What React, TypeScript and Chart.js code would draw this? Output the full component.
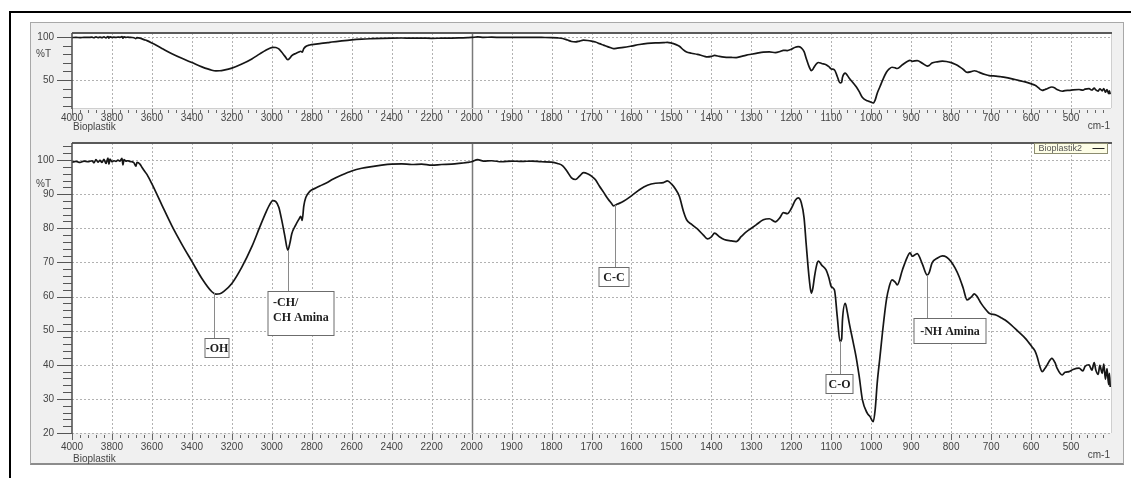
import React, { useEffect, useRef } from "react";
import { Chart, registerables } from "chart.js";

Chart.register(...registerables);

// ---------------- DATA ----------------
const wavenumbers: number[] = [
  4000, 3980, 3960, 3940, 3920, 3900, 3890, 3880, 3870, 3860, 3850, 3840, 3830, 3820, 3815, 3810,
  3800, 3790, 3780, 3770, 3760, 3750, 3745, 3740, 3730, 3720, 3710, 3700, 3690, 3680, 3675, 3660,
  3650, 3640, 3625, 3600, 3550, 3500, 3450, 3400, 3350, 3300, 3280, 3260, 3240, 3200, 3150, 3100,
  3060, 3030, 3010, 2995, 2980, 2965, 2950, 2935, 2920, 2910, 2900, 2880, 2865, 2855, 2848, 2840,
  2830, 2810, 2780, 2760, 2720, 2700, 2650, 2600, 2550, 2500, 2450, 2400, 2350, 2300, 2250, 2200,
  2150, 2100, 2050, 2020, 2000, 1985, 1970, 1950, 1925, 1900, 1875, 1850, 1825, 1800, 1785, 1772,
  1760, 1750, 1740, 1730, 1720, 1710, 1700, 1690, 1680, 1670, 1660, 1650, 1645, 1635, 1620, 1600,
  1580, 1560, 1540, 1520, 1510, 1500, 1490, 1480, 1470, 1462, 1450, 1435, 1420, 1410, 1400, 1392,
  1380, 1368, 1350, 1338, 1325, 1312, 1300, 1288, 1270, 1255, 1240, 1228, 1220, 1210, 1200, 1190,
  1183, 1175, 1168, 1163, 1155, 1150, 1146, 1142, 1136, 1132, 1124, 1113, 1106, 1100, 1092, 1085,
  1078, 1074, 1072, 1065, 1060, 1055, 1045, 1038, 1030, 1022, 1010, 1003, 995, 990, 985, 978,
  972, 962, 955, 948, 940, 935, 922, 910, 903, 897, 885, 872, 860, 855, 848, 835,
  822, 812, 800, 790, 780, 770, 760, 750, 742, 735, 725, 715, 705, 688, 675, 665,
  650, 632, 615, 598, 590, 585, 578, 572, 566, 560, 548, 540, 535, 522, 515, 505,
  495, 480, 470, 465, 455, 448, 442, 438, 432, 428, 422, 418, 414, 410, 406, 404, 402,
];

const transmittance: number[] = [
  99.4, 99.6, 99.3, 99.7, 99.5, 99.8, 99.2, 100.1, 99.4, 99.9, 99.3, 100.2, 99.0, 100.6, 98.8, 100.3,
  99.5, 99.8, 99.6, 100.0, 99.7, 100.5, 98.6, 100.1, 99.7, 99.8, 99.6, 99.5, 99.2, 98.2, 99.3, 98.8,
  97.9, 97.0, 95.8, 93.0, 86.8, 80.7, 75.3, 70.3, 65.3, 61.4, 60.7, 60.8, 61.5, 63.8, 68.6, 74.6,
  80.4, 84.6, 87.0, 88.1, 87.8, 86.2, 82.3, 77.8, 73.6, 75.5, 78.4, 81.0, 82.6, 83.5, 82.3, 86.5,
  89.0, 90.8, 91.8, 92.4, 93.5, 94.2, 95.6, 96.8, 97.6, 98.1, 98.5, 98.8, 98.9, 98.7, 98.8, 98.5,
  98.7, 98.8, 99.1, 99.3, 99.5, 100.1, 99.7, 99.8, 99.5, 99.7, 99.6, 99.7, 99.5, 99.4, 99.0, 98.3,
  96.5, 94.8, 94.3, 95.3, 96.3, 96.0, 95.3, 94.2, 92.3, 90.6, 88.8, 87.3, 86.6, 87.1, 87.9, 89.5,
  91.3, 92.6, 93.2, 93.4, 93.9, 93.0, 91.5, 89.3, 85.0, 82.5, 81.2, 79.8, 78.0, 76.9, 77.5, 78.6,
  77.5, 76.7, 76.3, 76.1, 77.6, 79.0, 80.0, 81.0, 82.5, 82.8, 81.9, 83.2, 84.6, 84.3, 85.8, 88.2,
  88.9, 87.5, 83.0, 75.7, 65.0, 61.0, 62.5, 65.8, 69.5, 70.4, 69.2, 67.8, 65.5, 62.9, 61.9, 54.1,
  46.8, 47.5, 53.1, 58.0, 55.5, 52.2, 46.5, 42.4, 36.5, 29.7, 25.8, 24.8, 23.3, 27.0, 34.7, 42.5,
  49.3, 59.0, 62.9, 64.9, 64.2, 63.4, 67.8, 71.5, 72.8, 71.8, 72.6, 69.5, 66.3, 67.0, 69.8, 71.2,
  71.9, 71.6, 70.2, 68.3, 65.8, 62.5, 59.0, 59.8, 60.8, 60.0, 58.0, 56.4, 55.1, 54.6, 53.8, 53.1,
  51.7, 49.7, 47.8, 45.3, 44.0, 42.4, 39.5, 38.0, 38.8, 39.9, 41.9, 40.6, 39.0, 37.0, 37.8, 38.0,
  38.6, 39.0, 38.2, 39.5, 40.0, 38.4, 40.6, 38.5, 37.2, 39.8, 37.5, 40.2, 35.8, 38.9, 34.2, 37.5, 33.5,
];

const xTickWavenumbers: number[] = [
  4000, 3800, 3600, 3400, 3200, 3000, 2800, 2600, 2400, 2200, 2000,
  1900, 1800, 1700, 1600, 1500, 1400, 1300, 1200, 1100, 1000, 900, 800, 700, 600, 500,
];
const xEndWavenumber = 400;
const xBreakWavenumber = 2000;

const topYTickValues: number[] = [20, 30, 40, 50, 60, 70, 80, 90, 100];
const topYLabelValues: number[] = [50, 100];
const bottomYTickValues: number[] = [
  20, 22, 24, 26, 28, 30, 32, 34, 36, 38, 40, 42, 44, 46, 48, 50, 52, 54, 56, 58, 60, 62,
  64, 66, 68, 70, 72, 74, 76, 78, 80, 82, 84, 86, 88, 90, 92, 94, 96, 98, 100, 102, 104,
];
const bottomYLabelValues: number[] = [20, 30, 40, 50, 60, 70, 80, 90, 100];

const sampleName = "Bioplastik";
const seriesName = "Bioplastik2";
const xUnit = "cm-1";
const yUnit = "%T";

const annotationLabels: string[][] = [["-OH"], ["-CH/", "CH Amina"], ["C-C"], ["C-O"], ["-NH Amina"]];
const annotationWavenumbers: number[] = [3290, 2920, 1640, 1077, 860];

// ---------------- LAYOUT / STYLE ----------------
const annotationBoxes = [
  { topValue: 47.8, dx: -10, w: 24, h: 19, align: "center" },
  { topValue: 61.6, dx: -21, w: 66, h: 44, align: "left" },
  { topValue: 68.7, dx: -17, w: 30, h: 19, align: "center" },
  { topValue: 37.3, dx: -15, w: 27, h: 19, align: "center" },
  { topValue: 53.7, dx: -14, w: 72, h: 25, align: "center" },
];

const AXIS_FONT = '"Liberation Sans", Arial, sans-serif';
const ANNOT_FONT = 'bold 12px "Liberation Serif", "DejaVu Serif", serif';

// piecewise wavenumber axis (scale change at 2000 cm-1)
const toU = (wn: number) =>
  wn >= xBreakWavenumber ? (4000 - wn) / 200 : 10 + (xBreakWavenumber - wn) / 100;

const interpT = (wn: number) => {
  for (let i = 0; i < wavenumbers.length - 1; i++) {
    const a = wavenumbers[i], b = wavenumbers[i + 1];
    if (wn <= a && wn >= b) {
      const t = (a - wn) / (a - b);
      return transmittance[i] + t * (transmittance[i + 1] - transmittance[i]);
    }
  }
  return transmittance[transmittance.length - 1];
};

const points = wavenumbers.map((w, i) => ({ x: toU(w), y: transmittance[i] }));

type PanelCfg = {
  yTicks: number[];
  yLabels: number[];
  unitValue: number;
  bottomLine: boolean;
  annotations: boolean;
  legend: boolean;
  nameOffset: number;
  unitOffset: number;
};

function makeDecor(cfg: PanelCfg) {
  return {
    id: "decor",
    beforeDatasetsDraw(chart: any) {
      const { ctx, chartArea: a } = chart;
      const x = chart.scales.x;
      const y = chart.scales.y;
      ctx.save();
      ctx.fillStyle = "#ffffff";
      ctx.fillRect(a.left, a.top, a.right - a.left, a.bottom - a.top);
      ctx.strokeStyle = "#b2b2b2";
      ctx.lineWidth = 1;
      ctx.setLineDash([2, 2]);
      ctx.beginPath();
      xTickWavenumbers.forEach((w) => {
        if (w === 4000 || w === xBreakWavenumber) return;
        const px = Math.round(x.getPixelForValue(toU(w))) + 0.5;
        ctx.moveTo(px, a.top);
        ctx.lineTo(px, a.bottom);
      });
      cfg.yLabels.forEach((v) => {
        const py = Math.round(y.getPixelForValue(v)) + 0.5;
        ctx.moveTo(a.left, py);
        ctx.lineTo(a.right, py);
      });
      ctx.stroke();
      ctx.setLineDash([]);
      const p2 = Math.round(x.getPixelForValue(toU(xBreakWavenumber))) + 0.5;
      ctx.strokeStyle = "#7a7a7a";
      ctx.lineWidth = 1.5;
      ctx.beginPath();
      ctx.moveTo(p2, a.top);
      ctx.lineTo(p2, a.bottom);
      ctx.stroke();
      ctx.restore();
    },
    afterDatasetsDraw(chart: any) {
      const { ctx, chartArea: a } = chart;
      const x = chart.scales.x;
      const y = chart.scales.y;
      ctx.save();
      // frame
      ctx.strokeStyle = "#cfcfcf";
      ctx.lineWidth = 1;
      ctx.beginPath();
      ctx.moveTo(a.right + 0.5, a.top);
      ctx.lineTo(a.right + 0.5, a.bottom);
      if (cfg.bottomLine) {
        ctx.moveTo(a.left, a.bottom + 0.5);
        ctx.lineTo(a.right, a.bottom + 0.5);
      }
      ctx.stroke();
      ctx.strokeStyle = "#5a5a5a";
      ctx.lineWidth = 2;
      ctx.beginPath();
      ctx.moveTo(a.left, a.top);
      ctx.lineTo(a.right + 1, a.top);
      ctx.stroke();
      ctx.strokeStyle = "#4a4a4a";
      ctx.lineWidth = 1.5;
      ctx.beginPath();
      ctx.moveTo(a.left, a.top);
      ctx.lineTo(a.left, a.bottom + 1);
      ctx.stroke();

      // y tick marks
      ctx.strokeStyle = "#555";
      ctx.lineWidth = 1;
      ctx.beginPath();
      cfg.yTicks.forEach((v) => {
        const py = Math.round(y.getPixelForValue(v)) + 0.5;
        const len = cfg.yLabels.includes(v) ? 15 : 9;
        ctx.moveTo(a.left - len, py);
        ctx.lineTo(a.left, py);
      });
      ctx.stroke();

      // x tick marks
      ctx.strokeStyle = "#666";
      ctx.beginPath();
      const ends = [...xTickWavenumbers, xEndWavenumber];
      for (let i = 0; i < ends.length - 1; i++) {
        const u0 = toU(ends[i]);
        const u1 = toU(ends[i + 1]);
        for (let k = 0; k < 5; k++) {
          const px = Math.round(x.getPixelForValue(u0 + ((u1 - u0) * k) / 5)) + 0.5;
          if (k === 0) {
            ctx.moveTo(px, a.bottom + 1);
            ctx.lineTo(px, a.bottom + 7);
          } else {
            ctx.moveTo(px, a.bottom + 2);
            ctx.lineTo(px, a.bottom + 5);
          }
        }
      }
      ctx.stroke();

      // unit / name texts
      ctx.fillStyle = "#444";
      ctx.font = `10px ${AXIS_FONT}`;
      ctx.textBaseline = "middle";
      ctx.textAlign = "right";
      ctx.fillText(yUnit, a.left - 21, y.getPixelForValue(cfg.unitValue));
      ctx.textAlign = "left";
      ctx.fillText(sampleName, a.left + 1, a.bottom + cfg.nameOffset);
      ctx.textAlign = "right";
      ctx.fillText(xUnit, a.right - 1, a.bottom + cfg.unitOffset);

      // annotations
      if (cfg.annotations) {
        annotationWavenumbers.forEach((w, i) => {
          const box = annotationBoxes[i];
          const px = Math.round(x.getPixelForValue(toU(w))) + 0.5;
          const py = y.getPixelForValue(interpT(w));
          const by = Math.round(y.getPixelForValue(box.topValue)) + 0.5;
          ctx.strokeStyle = "#8a8a8a";
          ctx.lineWidth = 1;
          ctx.beginPath();
          ctx.moveTo(px, py);
          ctx.lineTo(px, by);
          ctx.stroke();
          const bx = Math.round(px + box.dx);
          ctx.fillStyle = "#ffffff";
          ctx.fillRect(bx, by, box.w, box.h);
          ctx.strokeStyle = "#6c6c6c";
          ctx.strokeRect(bx, by, box.w, box.h);
          ctx.fillStyle = "#1e1e1e";
          ctx.font = ANNOT_FONT;
          ctx.textBaseline = "middle";
          const lines = annotationLabels[i];
          if (box.align === "left") {
            ctx.textAlign = "left";
            lines.forEach((t, j) => ctx.fillText(t, bx + 5, by + 11 + j * 15));
          } else {
            ctx.textAlign = "center";
            ctx.fillText(lines[0], bx + box.w / 2, by + box.h / 2 + 1);
          }
        });
      }

      // legend
      if (cfg.legend) {
        const lx = Math.round(a.right - 77) + 0.5;
        const ly = Math.round(a.top) + 0.5;
        ctx.fillStyle = "#fdfde6";
        ctx.fillRect(lx, ly, 73, 10);
        ctx.strokeStyle = "#8c8c70";
        ctx.lineWidth = 1;
        ctx.strokeRect(lx, ly, 73, 10);
        ctx.fillStyle = "#555";
        ctx.font = `9px ${AXIS_FONT}`;
        ctx.textAlign = "left";
        ctx.textBaseline = "middle";
        ctx.fillText(seriesName, lx + 4, ly + 5.5);
        ctx.strokeStyle = "#222";
        ctx.beginPath();
        ctx.moveTo(lx + 58, ly + 5);
        ctx.lineTo(lx + 70, ly + 5);
        ctx.stroke();
      }
      ctx.restore();
    },
  };
}

function buildConfig(opts: {
  yMin: number;
  yMax: number;
  xHeight: number;
  labelPadding: number;
  cfg: PanelCfg;
}): any {
  const { yMin, yMax, xHeight, labelPadding, cfg } = opts;
  return {
    type: "line",
    data: {
      datasets: [
        {
          label: seriesName,
          data: points,
          borderColor: "#161616",
          borderWidth: 1.7,
          pointRadius: 0,
          fill: false,
          cubicInterpolationMode: "monotone",
        },
      ],
    },
    options: {
      animation: false,
      responsive: false,
      events: [],
      layout: { padding: { top: 11, right: 12, left: 0, bottom: 0 } },
      plugins: { legend: { display: false }, tooltip: { enabled: false } },
      scales: {
        x: {
          type: "linear",
          min: 0,
          max: toU(xEndWavenumber),
          grid: { display: false, drawTicks: false },
          border: { display: false },
          afterBuildTicks: (s: any) => {
            s.ticks = xTickWavenumbers.map((w) => ({ value: toU(w) }));
          },
          afterFit: (s: any) => {
            s.height = xHeight;
            s.paddingLeft = 0;
            s.paddingRight = 0;
            s.paddingTop = 0;
            s.paddingBottom = 0;
          },
          ticks: {
            autoSkip: false,
            maxRotation: 0,
            color: "#444",
            padding: labelPadding,
            font: { family: AXIS_FONT, size: 10 },
            callback: (v: number) => {
              const w = xTickWavenumbers.find((t) => Math.abs(toU(t) - v) < 1e-6);
              return w === undefined ? "" : String(w);
            },
          },
        },
        y: {
          type: "linear",
          min: yMin,
          max: yMax,
          grid: { display: false, drawTicks: false },
          border: { display: false },
          afterBuildTicks: (s: any) => {
            s.ticks = cfg.yLabels.map((v) => ({ value: v }));
          },
          afterFit: (s: any) => {
            s.width = 42;
            s.paddingLeft = 0;
            s.paddingRight = 0;
            s.paddingTop = 0;
            s.paddingBottom = 0;
          },
          ticks: {
            color: "#444",
            padding: 18,
            font: { family: AXIS_FONT, size: 10 },
            callback: (v: number) => String(v),
          },
        },
      },
    },
    plugins: [makeDecor(cfg)],
  };
}

export default function App() {
  const topRef = useRef<HTMLCanvasElement>(null);
  const botRef = useRef<HTMLCanvasElement>(null);

  useEffect(() => {
    const c1 = new Chart(
      topRef.current as HTMLCanvasElement,
      buildConfig({
        yMin: 17.5,
        yMax: 104.7,
        xHeight: 24,
        labelPadding: 4,
        cfg: {
          yTicks: topYTickValues,
          yLabels: topYLabelValues,
          unitValue: 79.5,
          bottomLine: true,
          annotations: false,
          legend: false,
          nameOffset: 19,
          unitOffset: 18,
        },
      })
    );
    const c2 = new Chart(
      botRef.current as HTMLCanvasElement,
      buildConfig({
        yMin: 20,
        yMax: 105,
        xHeight: 31,
        labelPadding: 8,
        cfg: {
          yTicks: bottomYTickValues,
          yLabels: bottomYLabelValues,
          unitValue: 93,
          bottomLine: false,
          annotations: true,
          legend: true,
          nameOffset: 26,
          unitOffset: 22,
        },
      })
    );
    return () => {
      c1.destroy();
      c2.destroy();
    };
  }, []);

  return (
    <div
      style={{
        position: "absolute",
        left: 0,
        top: 0,
        width: 1131,
        height: 478,
        background: "#ffffff",
        overflow: "hidden",
      }}
    >
      <div
        style={{
          position: "absolute",
          left: 9,
          top: 11,
          width: 1140,
          height: 490,
          border: "2px solid #000",
          boxSizing: "border-box",
        }}
      />
      <div
        style={{
          position: "absolute",
          left: 30,
          top: 22,
          width: 1094,
          height: 443,
          background: "#f0f0f0",
          borderTop: "1px solid #a8a8a8",
          borderLeft: "1px solid #a8a8a8",
          borderRight: "1px solid #a8a8a8",
          borderBottom: "2px solid #8c8c8c",
          boxSizing: "border-box",
        }}
      />
      <canvas
        ref={topRef}
        width={1093}
        height={110}
        style={{ position: "absolute", left: 30, top: 22 }}
      />
      <canvas
        ref={botRef}
        width={1093}
        height={332}
        style={{ position: "absolute", left: 30, top: 132 }}
      />
    </div>
  );
}
